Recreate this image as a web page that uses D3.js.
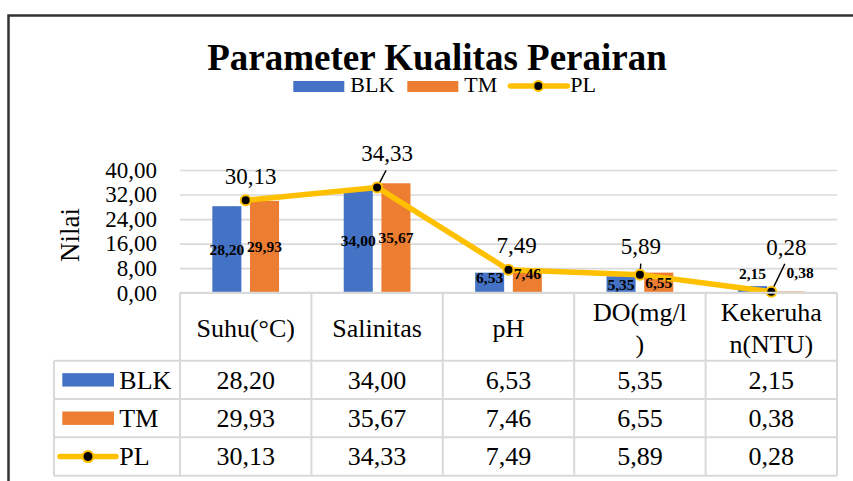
<!DOCTYPE html>
<html lang="id">
<head>
<meta charset="utf-8">
<title>Parameter Kualitas Perairan</title>
<script src="https://d3js.org/d3.v7.min.js"></script>
<style>
  body { margin: 0; background: #fff; }
  svg { display: block; font-family: "Liberation Serif", "Times New Roman", serif; }
</style>
</head>
<body>
<div id="chart"></div>
<script>
  // Data
  const categories = ["Suhu(°C)", "Salinitas", "pH", "DO(mg/l)", "Kekeruhan(NTU)"];
  const headerLines = [["Suhu(°C)"], ["Salinitas"], ["pH"], ["DO(mg/l", ")"], ["Kekeruha", "n(NTU)"]];
  const seriesNames = ["BLK", "TM", "PL"];
  const blk = [28.20, 34.00, 6.53, 5.35, 2.15];
  const tm = [29.93, 35.67, 7.46, 6.55, 0.38];
  const pl = [30.13, 34.33, 7.49, 5.89, 0.28];
  const yTicks = [0, 8, 16, 24, 32, 40];

  const colors = { BLK: "#4472C4", TM: "#ED7D31", PL: "#FFC000" };

  // manual label nudges (dx, dy) like in the original
  const barLabelShift = {
    BLK: [[0, 0], [0, 0], [0, -5], [0, 0], [0, -16]],
    TM: [[0, 0], [0, 0], [0, -8], [0, 0], [10, -19]]
  };
  const plLabelShift = [[5, -24], [10, -34], [8, -25], [1, -28], [15, -45]];
  const plLeader = [false, true, false, true, true];

  const fmt = v => v.toFixed(2).replace(".", ",");

  const width = 853, height = 481;
  const plotLeft = 180, plotRight = 837, plotTop = 170, plotBottom = 292.7;

  const svg = d3.select("#chart").append("svg")
    .attr("width", width)
    .attr("height", height);

  // outer frame (cropped chart border)
  svg.append("path")
    .attr("d", `M8.5,${height} L8.5,15.5 L${width},15.5`)
    .attr("fill", "none")
    .attr("stroke", "#333")
    .attr("stroke-width", 2.5);

  // Title
  svg.append("text")
    .attr("x", 437).attr("y", 70)
    .attr("text-anchor", "middle")
    .attr("font-size", 37).attr("font-weight", "bold")
    .text("Parameter Kualitas Perairan");

  // Scales
  const x = d3.scaleBand().domain(categories).range([plotLeft, plotRight]);
  const xs = d3.scaleBand().domain(["BLK", "TM"])
    .range([0, x.bandwidth()])
    .paddingInner(0.23).paddingOuter(0.858);
  const y = d3.scaleLinear().domain([0, 40]).range([plotBottom, plotTop]);
  const cx = c => x(c) + x.bandwidth() / 2;

  // Gridlines
  const grid = svg.append("g")
    .attr("transform", `translate(${plotLeft},0)`)
    .call(d3.axisLeft(y).tickValues(yTicks).tickSize(-(plotRight - plotLeft)).tickFormat(""));
  grid.select(".domain").remove();
  grid.selectAll("line").attr("stroke", "#D9D9D9").attr("stroke-width", 1.6);

  // Y axis labels
  const yAxis = svg.append("g")
    .attr("transform", "translate(157,0)")
    .call(d3.axisLeft(y).tickValues(yTicks).tickSize(0).tickPadding(0).tickFormat(fmt));
  yAxis.select(".domain").remove();
  yAxis.selectAll("text")
    .attr("font-size", 23)
    .attr("font-family", "Liberation Serif, Times New Roman, serif")
    .attr("fill", "#000");

  // Y axis title
  svg.append("text")
    .attr("transform", "translate(79,235) rotate(-90)")
    .attr("text-anchor", "middle")
    .attr("font-size", 27)
    .text("Nilai");

  // Bars
  const barData = [];
  categories.forEach((c, i) => {
    barData.push({ s: "BLK", c, i, v: blk[i] });
    barData.push({ s: "TM", c, i, v: tm[i] });
  });

  svg.append("g").selectAll("rect")
    .data(barData)
    .enter()
    .append("rect")
    .attr("x", d => x(d.c) + xs(d.s))
    .attr("y", d => y(d.v))
    .attr("width", xs.bandwidth())
    .attr("height", d => plotBottom - y(d.v))
    .attr("fill", d => colors[d.s]);

  // PL line
  const line = d3.line()
    .x((d, i) => cx(categories[i]))
    .y(d => y(d));

  // leader lines for PL labels
  svg.append("g").selectAll("line")
    .data(pl.map((v, i) => ({ v, i })).filter(d => plLeader[d.i]))
    .enter()
    .append("line")
    .each(function (d) {
      const px = cx(categories[d.i]), py = y(d.v);
      const lx = px + plLabelShift[d.i][0], ly = py + plLabelShift[d.i][1];
      const sx = lx + (px - lx) * 0.1, sy = ly + 17;
      d3.select(this)
        .attr("x1", sx).attr("y1", sy)
        .attr("x2", px).attr("y2", py);
    })
    .attr("stroke", "#000")
    .attr("stroke-width", 1.4);

  svg.append("path")
    .datum(pl)
    .attr("d", line)
    .attr("fill", "none")
    .attr("stroke", colors.PL)
    .attr("stroke-width", 5.5)
    .attr("stroke-linejoin", "round");

  svg.append("g").selectAll("circle")
    .data(pl)
    .enter()
    .append("circle")
    .attr("cx", (d, i) => cx(categories[i]))
    .attr("cy", d => y(d))
    .attr("r", 5)
    .attr("fill", "#000")
    .attr("stroke", colors.PL)
    .attr("stroke-width", 2);

  // Bar labels
  svg.append("g").selectAll("text")
    .data(barData)
    .enter()
    .append("text")
    .attr("x", d => x(d.c) + xs(d.s) + xs.bandwidth() / 2 + barLabelShift[d.s][d.i][0])
    .attr("y", d => (y(d.v) + plotBottom) / 2 + barLabelShift[d.s][d.i][1])
    .attr("dy", "0.34em")
    .attr("text-anchor", "middle")
    .attr("font-size", 15.5)
    .attr("font-weight", "bold")
    .text(d => fmt(d.v));

  // PL labels
  svg.append("g").selectAll("text")
    .data(pl)
    .enter()
    .append("text")
    .attr("x", (d, i) => cx(categories[i]) + plLabelShift[i][0])
    .attr("y", (d, i) => y(d) + plLabelShift[i][1])
    .attr("dy", "0.34em")
    .attr("text-anchor", "middle")
    .attr("font-size", 23)
    .text(d => fmt(d));

  // Top legend
  const legend = svg.append("g");
  let legX = 293.3;
  seriesNames.forEach(s => {
    if (s === "PL") {
      legend.append("line")
        .attr("x1", legX).attr("x2", legX + 57).attr("y1", 86).attr("y2", 86)
        .attr("stroke", colors.PL).attr("stroke-width", 5.5).attr("stroke-linecap", "round");
      legend.append("circle")
        .attr("cx", legX + 28).attr("cy", 86).attr("r", 5)
        .attr("fill", "#000").attr("stroke", colors.PL).attr("stroke-width", 2);
      legX += 60;
    } else {
      legend.append("rect")
        .attr("x", legX).attr("y", 81).attr("width", 51).attr("height", 11)
        .attr("fill", colors[s]);
      legX += 57;
    }
    const t = legend.append("text")
      .attr("x", legX).attr("y", 92.3)
      .attr("font-size", 22)
      .text(s);
    legX += t.node().getComputedTextLength() + 13;
  });

  // Data table
  const rowY = d3.scaleBand().domain(seriesNames).range([360.7, 475.7]);
  const table = svg.append("g");
  const gridColor = "#D9D9D9";

  // horizontal lines
  table.append("line")
    .attr("x1", plotLeft).attr("x2", plotRight).attr("y1", plotBottom).attr("y2", plotBottom);
  seriesNames.forEach(s => {
    table.append("line")
      .attr("x1", 54).attr("x2", plotRight).attr("y1", rowY(s)).attr("y2", rowY(s));
  });
  table.append("line")
    .attr("x1", 54).attr("x2", plotRight).attr("y1", 475.7).attr("y2", 475.7);
  // vertical lines
  table.append("line")
    .attr("x1", 54).attr("x2", 54).attr("y1", 360.7).attr("y2", 475.7);
  categories.forEach(c => {
    table.append("line")
      .attr("x1", x(c)).attr("x2", x(c)).attr("y1", plotBottom).attr("y2", 475.7);
  });
  table.append("line")
    .attr("x1", plotRight).attr("x2", plotRight).attr("y1", plotBottom).attr("y2", 475.7);
  table.selectAll("line").attr("stroke", gridColor).attr("stroke-width", 2);

  // header text
  categories.forEach((c, i) => {
    const lines = headerLines[i];
    const mid = (plotBottom + 360.7) / 2;
    lines.forEach((ln, j) => {
      table.append("text")
        .attr("x", cx(c))
        .attr("y", mid + (j - (lines.length - 1) / 2) * 32 + 1)
        .attr("dy", "0.34em")
        .attr("text-anchor", "middle")
        .attr("font-size", 26)
        .text(ln);
    });
  });

  // row values
  const rowValues = { BLK: blk, TM: tm, PL: pl };
  seriesNames.forEach(s => {
    const my = rowY(s) + rowY.bandwidth() / 2;
    if (s === "PL") {
      table.append("line")
        .attr("x1", 60).attr("x2", 116).attr("y1", my).attr("y2", my)
        .attr("stroke", colors.PL).attr("stroke-width", 5.5).attr("stroke-linecap", "round");
      table.append("circle")
        .attr("cx", 88).attr("cy", my).attr("r", 5.5)
        .attr("fill", "#000").attr("stroke", colors.PL).attr("stroke-width", 2);
    } else {
      table.append("rect")
        .attr("x", 62.3).attr("y", my - 6.7).attr("width", 51.7).attr("height", 13.4)
        .attr("fill", colors[s]);
    }
    table.append("text")
      .attr("x", 119.3).attr("y", my)
      .attr("dy", "0.34em")
      .attr("font-size", 26)
      .text(s);
    categories.forEach((c, i) => {
      table.append("text")
        .attr("x", cx(c)).attr("y", my)
        .attr("dy", "0.34em")
        .attr("text-anchor", "middle")
        .attr("font-size", 26)
        .text(fmt(rowValues[s][i]));
    });
  });
</script>
</body>
</html>
